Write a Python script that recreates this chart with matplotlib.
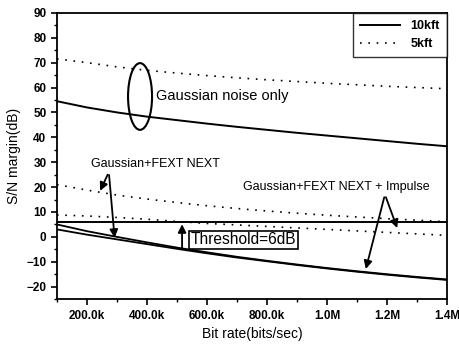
import matplotlib
matplotlib.use("Agg")
import matplotlib.pyplot as plt
from matplotlib.patches import Ellipse
from matplotlib.ticker import MultipleLocator, FixedLocator

plt.rcParams['font.family'] = ['Liberation Sans', 'DejaVu Sans']

# Bit rate (bits/sec)
rate = [100e3, 200e3, 300e3, 400e3, 500e3, 600e3, 700e3, 800e3, 900e3,
        1.0e6, 1.1e6, 1.2e6, 1.3e6, 1.4e6]

# S/N margin (dB)
g_10kft = [54.5, 52.0, 50.0, 48.3, 46.9, 45.5, 44.2, 43.0, 41.8, 40.7, 39.6, 38.5, 37.4, 36.4]
g_5kft = [71.5, 70.0, 68.3, 66.9, 65.8, 64.8, 63.9, 63.1, 62.4, 61.7, 61.1, 60.5, 60.0, 59.5]
gf_5kft = [21.0, 18.8, 16.8, 15.2, 13.8, 12.5, 11.4, 10.4, 9.5, 8.7, 8.0, 7.3, 6.7, 6.1]
gfi_5kft = [8.8, 8.4, 7.8, 7.1, 6.2, 5.4, 4.8, 4.2, 3.6, 3.0, 2.4, 1.8, 1.2, 0.6]
gf_10kft = [5.0, 2.3, 0.0, -2.2, -4.3, -6.2, -8.0, -9.6, -11.1, -12.5, -13.8, -15.0, -16.1, -17.1]
gfi_10kft = [3.0, 0.9, -1.0, -2.9, -4.8, -6.6, -8.3, -9.8, -11.3, -12.7, -14.0, -15.2, -16.3, -17.3]
threshold = 6

xticks = [200e3, 400e3, 600e3, 800e3, 1.0e6, 1.2e6, 1.4e6]
xtick_labels = ["200.0k", "400.0k", "600.0k", "800.0k", "1.0M", "1.2M", "1.4M"]

fig = plt.figure(figsize=(4.59, 3.47), dpi=100)
ax = fig.add_axes([0.124, 0.138, 0.850, 0.825])

dots = (0, (1, 4))
l1, = ax.plot(rate, g_10kft, color='black', lw=1.4, label='10kft')
l2, = ax.plot(rate, g_5kft, color='black', lw=1.2, ls=dots, label='5kft')
ax.plot(rate, gf_5kft, color='black', lw=1.2, ls=dots)
ax.plot(rate, gfi_5kft, color='black', lw=1.2, ls=dots)
ax.plot(rate, gf_10kft, color='black', lw=1.3)
ax.plot(rate, gfi_10kft, color='black', lw=1.3)
ax.axhline(threshold, color='black', lw=1.4)

ax.set_xlim(100e3, 1.4e6)
ax.set_ylim(-25, 90)
ax.xaxis.set_major_locator(FixedLocator(xticks))
ax.set_xticklabels(xtick_labels)
ax.xaxis.set_minor_locator(MultipleLocator(100e3))
ax.yaxis.set_major_locator(MultipleLocator(10))
ax.yaxis.set_minor_locator(MultipleLocator(5))
ax.tick_params(which='major', length=4, width=1.2, labelsize=8.5, direction='out')
ax.tick_params(which='minor', length=2.5, width=1.0, direction='out')
for lab in ax.get_xticklabels() + ax.get_yticklabels():
    lab.set_fontweight('bold')
for s in ax.spines.values():
    s.set_linewidth(1.3)

ax.set_xlabel('Bit rate(bits/sec)', fontsize=10)
ax.set_ylabel('S/N margin(dB)', fontsize=10)

leg = ax.legend(handles=[l1, l2], loc='upper right', borderaxespad=0,
                frameon=True, fancybox=False, edgecolor='black',
                prop={'size': 9, 'weight': 'bold'}, handlelength=3.2,
                borderpad=0.6, labelspacing=0.45)
leg.get_frame().set_linewidth(1.0)

# Ellipse annotation
ax.add_patch(Ellipse((377e3, 56.4), 80e3, 26.8, fill=False, edgecolor='black', lw=1.5))
ax.text(430e3, 56.4, 'Gaussian noise only', fontsize=10.5, va='center', ha='left')

# Gaussian+FEXT NEXT
ax.text(215e3, 29.2, 'Gaussian+FEXT NEXT', fontsize=9, va='center', ha='left')
arr = dict(arrowstyle='-|>', color='black', lw=1.3, mutation_scale=12)
ax.annotate('', xy=(240e3, 17.5), xytext=(273e3, 26), arrowprops=arr)
ax.annotate('', xy=(293e3, -1.5), xytext=(273e3, 26), arrowprops=arr)

# Gaussian+FEXT NEXT + Impulse
ax.text(720e3, 20, 'Gaussian+FEXT NEXT + Impulse', fontsize=9, va='center', ha='left')
ax.annotate('', xy=(1237e3, 2.5), xytext=(1193e3, 17), arrowprops=arr)
ax.annotate('', xy=(1127e3, -14), xytext=(1193e3, 17), arrowprops=arr)

# Threshold
ax.annotate('', xy=(517e3, 6.2), xytext=(517e3, -5.5), arrowprops=arr)
ax.text(545e3, -1.2, 'Threshold=6dB', fontsize=11.2, va='center', ha='left',
        bbox=dict(boxstyle='square,pad=0.12', facecolor='white', edgecolor='black', lw=1.2))

fig.savefig('out.png', dpi=100)
